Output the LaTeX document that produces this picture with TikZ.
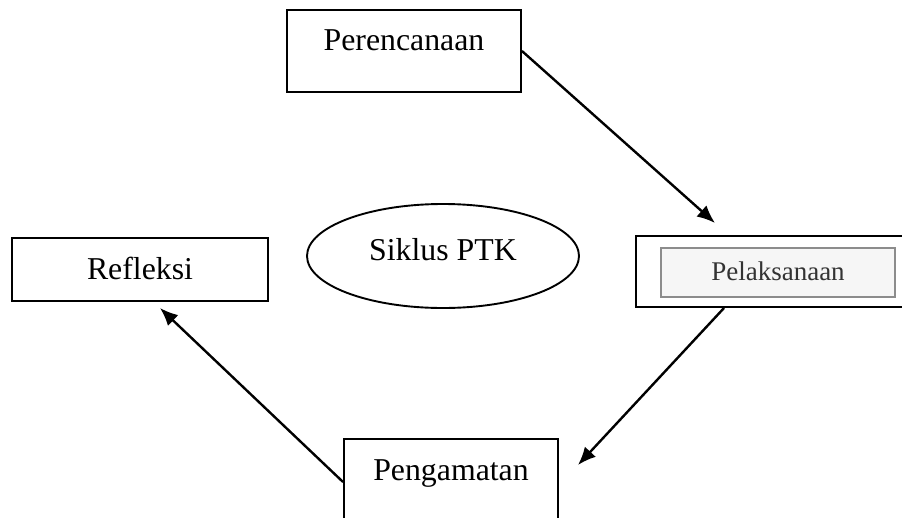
\documentclass[tikz,border=0pt]{standalone}
\usepackage{fontspec}
\setmainfont{Liberation Serif}
\usepackage{xcolor}
\usetikzlibrary{arrows.meta,positioning,shapes.geometric}
\definecolor{scangray}{HTML}{333333}
\definecolor{scanframe}{HTML}{8C8C8C}
\definecolor{scanfill}{HTML}{F6F6F6}

\begin{document}
\begin{tikzpicture}[
  x=1pt,
  y=-1pt,
  every node/.style={
    inner sep=0pt,
    align=center
  },
  stagebox/.style={
    rectangle,
    draw=black,
    line width=1.9pt,
    font=\fontsize{31.8}{36}\selectfont
  },
  cyclelink/.style={
    -{Latex[length=18pt,width=15pt]},
    draw=black,
    line width=2.4pt
  },
  centre/.style={
    ellipse,
    draw=black,
    line width=1.9pt,
    minimum width=272pt,
    minimum height=104pt,
    font=\fontsize{31.8}{36}\selectfont
  },
  pasted/.style={
    rectangle,
    draw=scanframe,
    fill=scanfill,
    line width=1.4pt,
    text=scangray,
    font=\fontsize{27}{32}\selectfont
  }
]

\clip (0,0) rectangle (902,517);

% Cycle stages
\node[stagebox, minimum width=234pt, text height=40pt, text depth=42pt]
  (perencanaan) at (404,51) {Perencanaan};
\node[stagebox, minimum width=274pt, minimum height=71pt]
  (pelaksanaan) at (773,271.5) {};
\node[pasted, minimum width=234pt, text height=32pt, text depth=17pt]
  (pelaksanaanisi) at (778,272.5) {Pelaksanaan};
\node[stagebox, minimum width=214pt, text height=41pt, text depth=50pt]
  (pengamatan) at (451,484.5) {Pengamatan};
\node[stagebox, minimum width=256pt, text height=41pt, text depth=22pt]
  (refleksi) at (140,269.5) {Refleksi};

% Centre label
\node[centre, text height=22pt, text depth=14pt] (siklus) at (443,256) {Siklus PTK};

% Arrow ends
\coordinate (tipA) at (715,223);
\coordinate (tipB) at (578,465);
\coordinate (tipC) at (160,308);
\coordinate (startB) at ([xshift=89pt]pelaksanaan.south west);
\coordinate (startC) at ([yshift=2.5pt]pengamatan.west);

% Cycle path
\draw[cyclelink] (perencanaan.east) -- (tipA);
\draw[cyclelink] (startB) -- (tipB);
\draw[cyclelink] (startC) -- (tipC);

\end{tikzpicture}
\end{document}
